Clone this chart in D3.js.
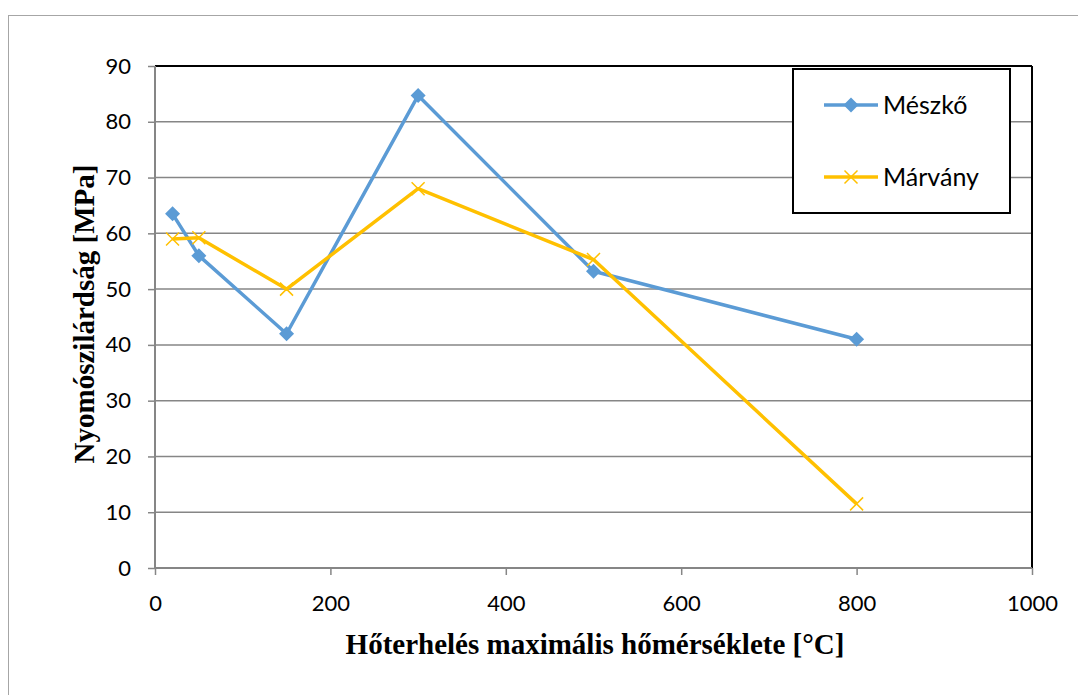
<!DOCTYPE html>
<html>
<head>
<meta charset="utf-8">
<script src="https://cdn.jsdelivr.net/npm/d3@7"></script>
<style>
  body { margin: 0; background: #fff; }
  svg text { font-family: Lato, "Noto Sans", sans-serif; }
</style>
</head>
<body>
<svg id="chart" width="1078" height="695"></svg>
<script>
'use strict'

// values
const temps = [20, 50, 150, 300, 500, 800]
const meszko = [63.5, 56, 42, 84.7, 53.2, 41]
const marvany = [59, 59.2, 50, 68, 55.3, 11.5]
const xTicks = [0, 200, 400, 600, 800, 1000]
const yTicks = [0, 10, 20, 30, 40, 50, 60, 70, 80, 90]
const seriesNames = ['Mészkő', 'Márvány']

const svg = d3.select('#chart')
const plot = { left: 155, top: 66, right: 1032, bottom: 568 }

// outer chart border
svg.append('rect')
  .attr('x', 8.5).attr('y', 15.5)
  .attr('width', 1080).attr('height', 700)
  .attr('fill', 'none').attr('stroke', '#a6a6a6').attr('stroke-width', 1)

const x = d3.scaleLinear().domain([0, 1000]).range([plot.left, plot.right])
const y = d3.scaleLinear().domain([0, 90]).range([plot.bottom, plot.top])

// horizontal gridlines
svg.append('g')
  .selectAll('line')
  .data(yTicks.slice(1))
  .enter().append('line')
  .attr('x1', plot.left).attr('x2', plot.right)
  .attr('y1', d => y(d)).attr('y2', d => y(d))
  .attr('stroke', d => d === 90 ? '#000' : '#868686')
  .attr('stroke-width', d => d === 90 ? 2 : 1.5)

// right border of the plot area
svg.append('line')
  .attr('x1', plot.right).attr('x2', plot.right)
  .attr('y1', plot.top).attr('y2', plot.bottom)
  .attr('stroke', '#000').attr('stroke-width', 2)

// axes
const yAxis = d3.axisLeft(y).tickValues(yTicks).tickSize(7).tickPadding(17)
const xAxis = d3.axisBottom(x).tickValues(xTicks).tickSize(7).tickPadding(20)
  .tickFormat(d3.format('d'))

const gy = svg.append('g').attr('transform', `translate(${plot.left},0)`).call(yAxis)
const gx = svg.append('g').attr('transform', `translate(0,${plot.bottom})`).call(xAxis)

;[gx, gy].forEach(g => {
  g.select('.domain').attr('stroke', '#868686').attr('stroke-width', 2)
  g.selectAll('.tick line').attr('stroke', '#868686').attr('stroke-width', 1.5)
  g.selectAll('.tick text')
    .attr('fill', '#000')
    .style('font-size', '22px')
    .style('font-family', 'Lato, "Noto Sans", sans-serif')
})
gy.select('.domain').attr('d', `M0,${plot.bottom}V${plot.top}`)
gx.select('.domain').attr('d', `M${plot.left},0H${plot.right}`)

// series lines
const line = d3.line()
  .x((d, i) => x(temps[i]))
  .y(d => y(d))

const colors = ['#5b9bd5', '#ffc000']

svg.append('path')
  .datum(meszko)
  .attr('d', line)
  .attr('fill', 'none').attr('stroke', colors[0]).attr('stroke-width', 3.5)
  .attr('stroke-linejoin', 'round')

svg.append('path')
  .datum(marvany)
  .attr('d', line)
  .attr('fill', 'none').attr('stroke', colors[1]).attr('stroke-width', 3.5)
  .attr('stroke-linejoin', 'round')

// markers
const diamond = s => `M0,${-s}L${s},0L0,${s}L${-s},0Z`
const cross = s => `M${-s},${-s}L${s},${s}M${-s},${s}L${s},${-s}`

svg.append('g')
  .selectAll('path')
  .data(meszko)
  .enter().append('path')
  .attr('d', diamond(7.5))
  .attr('transform', (d, i) => `translate(${x(temps[i])},${y(d)})`)
  .attr('fill', colors[0])

svg.append('g')
  .selectAll('path')
  .data(marvany)
  .enter().append('path')
  .attr('d', cross(6.5))
  .attr('transform', (d, i) => `translate(${x(temps[i])},${y(d)})`)
  .attr('fill', 'none').attr('stroke', colors[1]).attr('stroke-width', 1.5)

// legend
const legend = svg.append('g')
legend.append('rect')
  .attr('x', 793).attr('y', 69).attr('width', 217).attr('height', 144)
  .attr('fill', '#fff').attr('stroke', '#000').attr('stroke-width', 2)

const legendY = [105, 177]
seriesNames.forEach((name, i) => {
  legend.append('line')
    .attr('x1', 824).attr('x2', 878)
    .attr('y1', legendY[i]).attr('y2', legendY[i])
    .attr('stroke', colors[i]).attr('stroke-width', 3.5)
  if (i === 0) {
    legend.append('path')
      .attr('d', diamond(7.5))
      .attr('transform', `translate(851,${legendY[i]})`)
      .attr('fill', colors[i])
  } else {
    legend.append('path')
      .attr('d', cross(6.5))
      .attr('transform', `translate(851,${legendY[i]})`)
      .attr('fill', 'none').attr('stroke', colors[i]).attr('stroke-width', 1.5)
  }
  legend.append('text')
    .attr('x', 883).attr('y', legendY[i] + 9)
    .style('font-size', '25px')
    .text(name)
})

// axis titles
svg.append('text')
  .attr('x', 595).attr('y', 654)
  .attr('text-anchor', 'middle')
  .style('font-family', '"Liberation Serif", "Times New Roman", serif')
  .style('font-weight', 'bold')
  .style('font-size', '29px')
  .text('Hőterhelés maximális hőmérséklete [°C]')

svg.append('text')
  .attr('transform', 'translate(94,314) rotate(-90)')
  .attr('text-anchor', 'middle')
  .style('font-family', '"Liberation Serif", "Times New Roman", serif')
  .style('font-weight', 'bold')
  .style('font-size', '29px')
  .text('Nyomószilárdság [MPa]')
</script>
</body>
</html>
